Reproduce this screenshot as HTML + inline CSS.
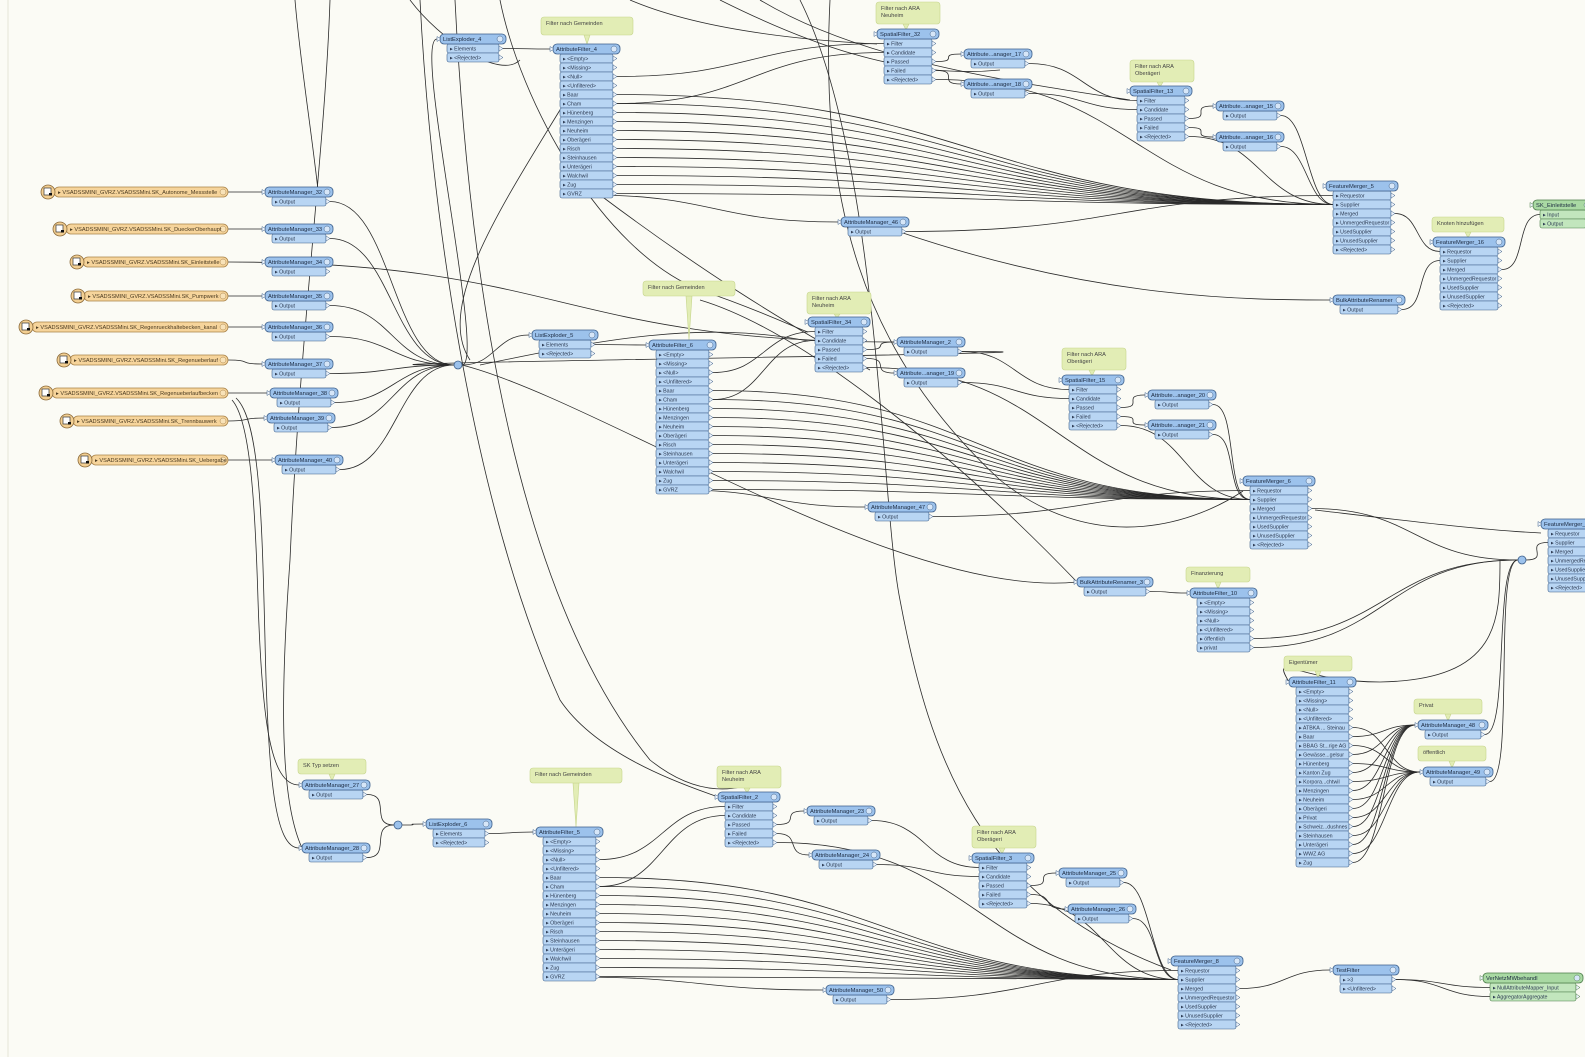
<!DOCTYPE html>
<html><head><meta charset="utf-8"><style>
html,body{margin:0;padding:0;background:#fbfbf5;}
svg{display:block}
text{font-family:"Liberation Sans",sans-serif;}
</style></head><body>
<svg id="s" width="1585" height="1057" viewBox="0 0 1585 1057" xmlns="http://www.w3.org/2000/svg">
<rect width="1585" height="1057" fill="#fbfbf5"/>
<line x1="8" y1="0" x2="8" y2="1057" stroke="#e4e4d8" stroke-width="1"/>
<g id="L" fill="none" stroke="#2a2a2a" stroke-width="0.8"></g>
<g id="A"></g>
<g id="N"></g>
</svg>
<script>
var NS="http://www.w3.org/2000/svg";
function el(p,t,a,txt){var e=document.createElementNS(NS,t);for(var k in a)e.setAttribute(k,a[k]);if(txt!=null)e.textContent=txt;p.appendChild(e);return e;}
var L=document.getElementById('L'),A=document.getElementById('A'),N=document.getElementById('N');
var nodes={};
function node(id,x,y,w,title,ports,kind){
  kind=kind||'b';
  var hf={b:'#9cc2ec',g:'#a9d9a3'}[kind], pf={b:'#b8d5f3',g:'#c2e6bd'}[kind], st={b:'#3d5f8a',g:'#4c7c4a'}[kind];
  var n={x:x,y:y,w:w,ports:ports};nodes[id]=n;
  for(var i=0;i<ports.length;i++){
    var py=y+5+i*9;
    el(N,'rect',{x:x+7,y:py,width:w-14,height:9,rx:2,fill:pf,stroke:st,'stroke-width':0.6});
    el(N,'path',{d:'M'+(x+w-7)+' '+(py+2)+'l4 2.5l-4 2.5z',fill:'#eef4fb',stroke:st,'stroke-width':0.5});
    el(N,'text',{x:x+10,y:py+6.6,'font-size':5.3,fill:'#2c3a52'},'▸ '+ports[i]);
  }
  el(N,'rect',{x:x,y:y-5,width:w,height:10,rx:4,fill:hf,stroke:st,'stroke-width':0.8});
  el(N,'path',{d:'M'+(x-3)+' '+(y-2.5)+'l4 2.5l-4 2.5z',fill:'#eef4fb',stroke:st,'stroke-width':0.5});
  el(N,'circle',{cx:x+w-6,cy:y,r:3,fill:'#d6e6f8',stroke:st,'stroke-width':0.5});
  el(N,'text',{x:x+3,y:y+2.2,'font-size':5.8,fill:'#1c2a40'},title);
}
function out(id,i){var n=nodes[id];return [n.x+n.w-3,n.y+9.5+i*9];}
function inp(id,i){var n=nodes[id];if(i==null)return [n.x-3,n.y];return [n.x+7,n.y+9.5+i*9];}
function reader(x,y,t){
  el(N,'rect',{x:x+6,y:y-5,width:222-x,height:10,rx:5,fill:'#f6d49b',stroke:'#a9834a','stroke-width':0.8});
  el(N,'circle',{cx:x,cy:y,r:7,fill:'#f3cf92',stroke:'#8b6a3a','stroke-width':0.8});
  el(N,'rect',{x:x-4,y:y-4,width:7,height:7,fill:'#fff',stroke:'#333','stroke-width':0.7});
  el(N,'rect',{x:x+1,y:y+1,width:3,height:2.5,fill:'#111'});
  el(N,'circle',{cx:223,cy:y,r:3,fill:'#f8e2b8',stroke:'#a9834a','stroke-width':0.5});
  el(N,'text',{x:x+10,y:y+2.2,'font-size':5.6,fill:'#4a3a20'},'▸ '+t);
}
function ann(x,y,w,h,t,tx,ty){
  if(tx!=null)el(A,'path',{d:'M'+(tx-3)+' '+(y+h)+'L'+tx+' '+ty+'L'+(tx+3)+' '+(y+h)+'z',fill:'#e2edb5',stroke:'#c6d58c','stroke-width':0.6});
  el(A,'rect',{x:x,y:y,width:w,height:h,rx:3,fill:'#e2edb5',stroke:'#c6d58c','stroke-width':0.6});
  var ls=t.split('|');for(var i=0;i<ls.length;i++)el(A,'text',{x:x+5,y:y+8+i*7,'font-size':5.6,fill:'#444'},ls[i]);
}
function c(a,b){var dx=Math.max(25,Math.abs(b[0]-a[0])*0.5);
  el(L,'path',{d:'M'+a[0]+' '+a[1]+'C'+(a[0]+dx)+' '+a[1]+' '+(b[0]-dx)+' '+b[1]+' '+b[0]+' '+b[1]});}
function raw(d){el(L,'path',{d:d});}
function junc(x,y){el(N,'circle',{cx:x,cy:y,r:4,fill:'#9cc2ec',stroke:'#3d5f8a','stroke-width':0.8});}

var AF=['<Empty>','<Missing>','<Null>','<Unfiltered>','Baar','Cham','Hünenberg','Menzingen','Neuheim','Oberägeri','Risch','Steinhausen','Unterägeri','Walchwil','Zug','GVRZ'];
var SF=['Filter','Candidate','Passed','Failed','<Rejected>'];
var FM=['Requestor','Supplier','Merged','UnmergedRequestor','UsedSupplier','UnusedSupplier','<Rejected>'];
var P='VSADSSMINI_GVRZ.VSADSSMini.';
var R=[[48,192,'SK_Autonome_Messstelle','AttributeManager_32',265,192],[60,229,'SK_DueckerOberhaupt','AttributeManager_33',265,229],[77,262,'SK_Einleitstelle','AttributeManager_34',265,262],[78,296,'SK_Pumpwerk','AttributeManager_35',265,296],[26,327,'SK_Regenrueckhaltebecken_kanal','AttributeManager_36',265,327],[64,360,'SK_Regenueberlauf','AttributeManager_37',265,364],[46,393,'SK_Regenueberlaufbecken','AttributeManager_38',270,393],[67,421,'SK_Trennbauwerk','AttributeManager_39',267,418],[85,460,'SK_Uebergabe','AttributeManager_40',275,460]];
R.forEach(function(r,i){reader(r[0],r[1],P+r[2]);node('am'+i,r[4],r[5],68,r[3],['Output']);});

ann(541,17,92,18,'Filter nach Gemeinden',587,44);
ann(643,281,92,15,'Filter nach Gemeinden',689,340);
ann(530,768,92,15,'Filter nach Gemeinden',576,827);
ann(876,2,64,22,'Filter nach ARA|Neuheim',906,30);
ann(1130,60,64,22,'Filter nach ARA|Oberägeri',1160,87);
ann(807,292,64,22,'Filter nach ARA|Neuheim',837,318);
ann(1062,348,64,22,'Filter nach ARA|Oberägeri',1092,376);
ann(717,766,64,22,'Filter nach ARA|Neuheim',747,793);
ann(972,826,64,22,'Filter nach ARA|Oberägeri',1002,854);
ann(1432,217,72,15,'Knoten hinzufügen',1468,238);
ann(1186,567,64,15,'Finanzierung',1218,589);
ann(1284,656,68,15,'Eigentümer',1318,678);
ann(1414,699,68,15,'Privat',1448,721);
ann(1418,746,68,15,'öffentlich',1452,768);
ann(298,759,68,15,'SK Typ setzen',332,781);

node('le4',440,39,66,'ListExploder_4',['Elements','<Rejected>']);
node('le5',532,335,66,'ListExploder_5',['Elements','<Rejected>']);
node('le6',426,824,66,'ListExploder_6',['Elements','<Rejected>']);
node('af4',553,49,67,'AttributeFilter_4',AF);
node('af6',649,345,67,'AttributeFilter_6',AF);
node('af5',536,832,67,'AttributeFilter_5',AF);
node('sf32',877,34,62,'SpatialFilter_32',SF);
node('am17',964,54,68,'Attribute...anager_17',['Output']);
node('am18',964,84,68,'Attribute...anager_18',['Output']);
node('sf13',1130,91,62,'SpatialFilter_13',SF);
node('am15',1216,106,68,'Attribute...anager_15',['Output']);
node('am16',1216,137,68,'Attribute...anager_16',['Output']);
node('fm5',1326,186,72,'FeatureMerger_5',FM);
node('am46',841,222,68,'AttributeManager_46',['Output']);
node('fm16',1433,242,72,'FeatureMerger_16',FM);
node('wr1',1533,205,60,'SK_Einleitstelle',['Input','Output'],'g');
node('bar',1333,300,72,'BulkAttributeRenamer',['Output']);
node('sf34',808,322,62,'SpatialFilter_34',SF);
node('am2',897,342,68,'AttributeManager_2',['Output']);
node('am19',897,373,68,'Attribute...anager_19',['Output']);
node('sf15',1062,380,62,'SpatialFilter_15',SF);
node('am20',1148,395,68,'Attribute...anager_20',['Output']);
node('am21',1148,425,68,'Attribute...anager_21',['Output']);
node('fm6',1243,481,72,'FeatureMerger_6',FM);
node('am47',868,507,68,'AttributeManager_47',['Output']);
node('bar3',1077,582,76,'BulkAttributeRenamer_3',['Output']);
node('af10',1190,593,67,'AttributeFilter_10',['<Empty>','<Missing>','<Null>','<Unfiltered>','öffentlich','privat']);
node('af11',1289,682,67,'AttributeFilter_11',['<Empty>','<Missing>','<Null>','<Unfiltered>','ATBKA ... Steinau','Baar','BBAG St...rige AG','Gewässe...gelsur','Hünenberg','Kanton Zug','Korpora...chtwil','Menzingen','Neuheim','Oberägeri','Privat','Schweiz...dushnes','Steinhausen','Unterägeri','WWZ AG','Zug']);
node('am48',1418,725,70,'AttributeManager_48',['Output']);
node('am49',1423,772,70,'AttributeManager_49',['Output']);
node('fm7',1541,524,72,'FeatureMerger_7',FM);
node('am27',302,785,68,'AttributeManager_27',['Output']);
node('am28',302,848,68,'AttributeManager_28',['Output']);
node('sf2',718,797,62,'SpatialFilter_2',SF);
node('am23',807,811,68,'AttributeManager_23',['Output']);
node('am24',812,855,68,'AttributeManager_24',['Output']);
node('sf3',972,858,62,'SpatialFilter_3',SF);
node('am25',1059,873,68,'AttributeManager_25',['Output']);
node('am26',1068,909,68,'AttributeManager_26',['Output']);
node('fm8',1171,961,72,'FeatureMerger_8',FM);
node('am50',826,990,68,'AttributeManager_50',['Output']);
node('tf',1333,970,66,'TestFilter',['>3','<Unfiltered>']);
node('wr2',1483,978,100,'VerNetzMWbehandl',['NullAttributeMapper_Input','AggregatorAggregate'],'g');
junc(458,365);junc(398,825);junc(1522,560);

R.forEach(function(r,i){c([228,r[1]],inp('am'+i));c(out('am'+i,0),[454,365]);});
c([462,365],inp('le5'));c([462,365],inp('le4'));
c(out('le4',0),inp('af4'));c(out('le5',0),inp('af6'));
c([402,825],inp('le6'));c(out('le6',0),inp('af5'));
c(out('am27',0),[394,825]);c(out('am28',0),[394,825]);
raw('M232 400C250 420 255 500 258 600C262 720 270 785 299 785');
raw('M236 398C260 420 262 520 265 640C268 780 275 848 299 848');
function grp(af,fm,sf,ams,amIn,sfb,amsb){
  for(var i=4;i<16;i++)c(out(af,i),inp(fm,1));
  c(out(af,2),inp(sf,0));c(out(af,5),inp(sf,1));
  c(out(sf,2),inp(ams[0]));c(out(sf,3),inp(ams[1]));
  c(out(ams[0],0),inp(sfb,0));c(out(ams[1],0),inp(sfb,1));
  c(out(sfb,2),inp(amsb[0]));c(out(sfb,3),inp(amsb[1]));
  c(out(amsb[0],0),inp(fm,1));c(out(amsb[1],0),inp(fm,1));
  c(out(sfb,4),inp(fm,1));c(out(sf,4),inp(fm,1));
  c(out(amIn,0),inp(fm,0));
}
grp('af4','fm5','sf32',['am17','am18'],'am46','sf13',['am15','am16']);
grp('af6','fm6','sf34',['am2','am19'],'am47','sf15',['am20','am21']);
grp('af5','fm8','sf2',['am23','am24'],'am50','sf3',['am25','am26']);
c([590,195],inp('am46'));c([680,490],inp('am47'));c([575,977],inp('am50'));
c(out('fm5',2),inp('fm16',0));c(out('bar',0),inp('fm16',1));c(out('fm16',2),inp('wr1',0));
c(out('fm6',2),[1518,560]);c(out('bar3',0),inp('af10'));
for(var i=4;i<6;i++)c(out('af10',i),[1518,560]);
for(var i=4;i<20;i++){c(out('af11',i),inp(i%2?'am48':'am49'));}
c(out('am48',0),[1518,560]);c(out('am49',0),[1518,560]);
c([1526,560],inp('fm7',1));
c(out('fm8',2),inp('tf'));c(out('tf',0),inp('wr2',0));c(out('tf',0),inp('wr2',1));
raw('M1500 560C1500 620 1500 680 1380 682 1300 682 1270 650 1289 682');
raw('M295 0C300 60 310 120 318 190');
raw('M330 0C325 150 300 330 290 560C280 700 280 800 302 848');
raw('M410 0C440 40 500 80 520 60');
raw('M420 0C430 200 470 500 560 700C600 760 700 790 718 797');
raw('M455 0C470 300 520 600 650 760C700 800 740 790 760 780');
raw('M500 0C520 100 600 250 700 290C760 310 800 330 808 332');
raw('M630 0C700 30 800 40 877 44');
raw('M720 0C800 40 900 80 1000 70');
raw('M760 0C860 60 1000 80 1130 100');
raw('M800 0C880 160 880 500 900 600C930 760 980 900 1171 970');
raw('M830 0C820 200 860 350 1000 480C1100 560 1200 520 1243 491');
raw('M590 60C520 180 430 300 470 360');
raw('M480 365C600 340 700 320 808 341');
raw('M600 195C700 270 780 320 870 370');
raw('M700 300C800 330 950 450 1077 582');
raw('M462 365C600 400 900 600 1077 582');
raw('M900 232C1100 300 1250 300 1333 300');
raw('M1315 510C1400 520 1480 530 1541 533');
</script>
</body></html>
